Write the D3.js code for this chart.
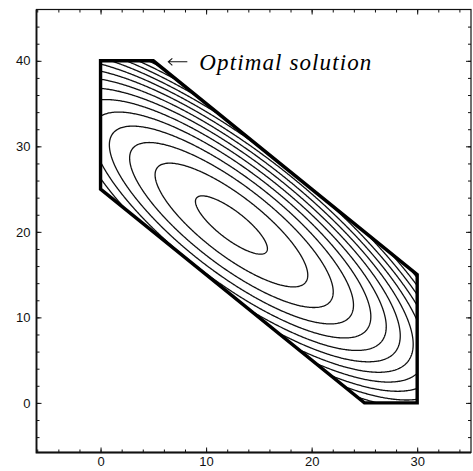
<!DOCTYPE html>
<html>
<head>
<meta charset="utf-8">
<script src="https://cdn.jsdelivr.net/npm/d3@7/dist/d3.min.js"></script>
<style>
  body { margin: 0; background: #fff; }
  .tick text { font-family: "Liberation Sans", Arial, sans-serif; font-size: 13px; fill: #111; }
</style>
</head>
<body>
<div id="chart"></div>
<script>
// corners of the feasible region, in order
var regionX = [0, 5, 30, 30, 25, 0];
var regionY = [40, 40, 15, 0, 0, 25];

// objective f = a(x-cx)^2 + 2b(x-cx)(y-cy) + c(y-cy)^2
var objCenter = [12.4, 20.8];
var objCoef = [1, 0.81, 1];
var levels = [4, 18, 32, 46, 60, 74, 88, 102, 116, 130, 144, 158, 172, 186];

var xTicks = [0, 10, 20, 30];
var yTicks = [0, 10, 20, 30, 40];
var optimum = [5, 40];
var label = "Optimal solution";

var width = 473;
var height = 471;

var x = d3.scaleLinear().domain([-6.07, 35.1]).range([36.5, 471]);
var y = d3.scaleLinear().domain([-5.8, 46]).range([452.5, 9.5]);

var svg = d3
  .select("#chart")
  .append("svg")
  .attr("width", width)
  .attr("height", height);

var corners = regionX.map(function(d, i) {
  return [x(d), y(regionY[i])];
});

svg
  .append("clipPath")
  .attr("id", "region")
  .append("polygon")
  .attr("points", corners.join(" "));

// sample the objective on a grid a bit larger than the region
var step = 0.1;
var gx0 = -1, gy0 = -1;
var nx = 321, ny = 421;
var grid = new Float64Array(nx * ny);
for (var j = 0; j < ny; j++) {
  for (var i = 0; i < nx; i++) {
    var u = gx0 + i * step - objCenter[0];
    var v = gy0 + j * step - objCenter[1];
    grid[j * nx + i] = objCoef[0] * u * u + 2 * objCoef[1] * u * v + objCoef[2] * v * v;
  }
}

var contours = d3.contours().size([nx, ny]).thresholds(levels)(grid);

var project = d3.geoTransform({
  point: function(px, py) {
    this.stream.point(x(gx0 + (px - 0.5) * step), y(gy0 + (py - 0.5) * step));
  }
});

svg
  .append("g")
  .attr("clip-path", "url(#region)")
  .selectAll("path")
  .data(contours)
  .enter()
  .append("path")
  .attr("d", d3.geoPath(project))
  .attr("fill", "none")
  .attr("stroke", "#111")
  .attr("stroke-width", 1.3);

svg
  .append("polygon")
  .attr("points", corners.join(" "))
  .attr("fill", "none")
  .attr("stroke", "#000")
  .attr("stroke-width", 3.4)
  .attr("stroke-linejoin", "miter");

// frame with inward ticks
svg
  .append("rect")
  .attr("x", 36.5)
  .attr("y", 9.5)
  .attr("width", 434.5)
  .attr("height", 443)
  .attr("fill", "none")
  .attr("stroke", "#111")
  .attr("stroke-width", 1.2);
svg
  .append("path")
  .attr("d", "M36.5,9.5V452.5H471")
  .attr("fill", "none")
  .attr("stroke", "#111")
  .attr("stroke-width", 1.8);

var minorX = d3.range(-6, 35, 2);
var minorY = d3.range(-4, 46, 2);

function frameAxis(axis, tr) {
  var g = svg.append("g").attr("transform", tr).call(axis);
  g.select(".domain").remove();
  g.selectAll("line").attr("stroke", "#111");
  return g;
}

frameAxis(d3.axisBottom(x).tickValues(minorX).tickSize(-3).tickFormat(""), "translate(0,452.5)");
frameAxis(d3.axisTop(x).tickValues(minorX).tickSize(-3).tickFormat(""), "translate(0,9.5)");
frameAxis(d3.axisLeft(y).tickValues(minorY).tickSize(-3).tickFormat(""), "translate(36.5,0)");
frameAxis(d3.axisRight(y).tickValues(minorY).tickSize(-3).tickFormat(""), "translate(471,0)");

frameAxis(d3.axisBottom(x).tickValues(xTicks).tickSize(-5).tickPadding(4), "translate(0,452.5)");
frameAxis(d3.axisLeft(y).tickValues(yTicks).tickSize(-5).tickPadding(6), "translate(36.5,0)");
frameAxis(d3.axisTop(x).tickValues(xTicks).tickSize(-5).tickFormat(""), "translate(0,9.5)");
frameAxis(d3.axisRight(y).tickValues(yTicks).tickSize(-5).tickFormat(""), "translate(471,0)");

// annotation: arrow pointing at the optimal corner
var ax = x(optimum[0]) + 15;
var ay = y(optimum[1]) + 1;
svg
  .append("path")
  .attr("d", "M" + (ax + 19) + "," + ay + "H" + ax +
    "M" + (ax + 4) + "," + (ay - 3.5) + "L" + ax + "," + ay + "L" + (ax + 4) + "," + (ay + 3.5))
  .attr("fill", "none")
  .attr("stroke", "#111")
  .attr("stroke-width", 1.1);

svg
  .append("text")
  .attr("x", x(optimum[0]) + 46)
  .attr("y", y(optimum[1]) + 9)
  .attr("font-family", "Liberation Serif, Times New Roman, serif")
  .attr("font-style", "italic")
  .attr("font-size", 23)
  .attr("textLength", 172)
  .attr("lengthAdjust", "spacing")
  .text(label);
</script>
</body>
</html>
